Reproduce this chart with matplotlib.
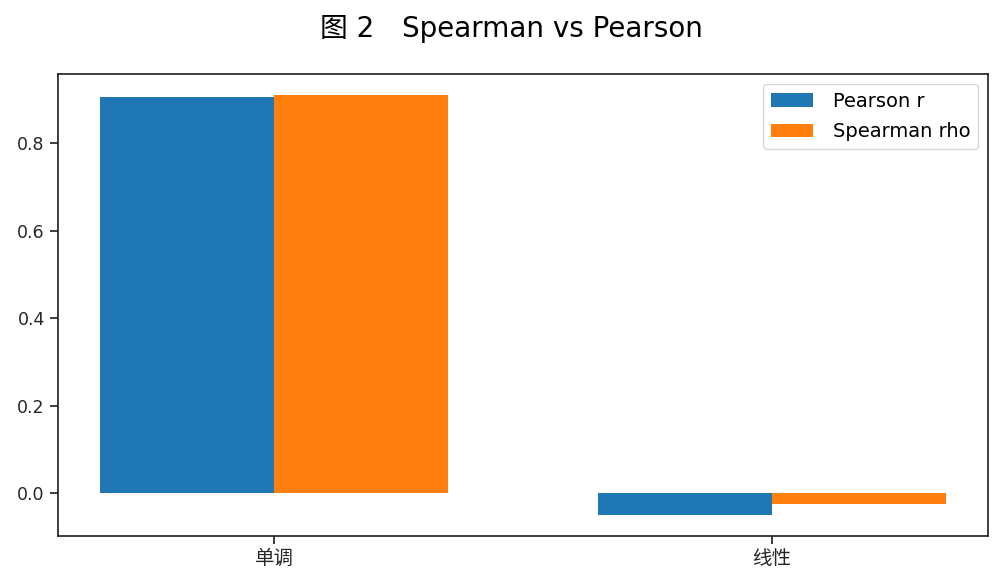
import matplotlib
matplotlib.use("Agg")
import matplotlib.pyplot as plt
import numpy as np

categories = ["单调", "线性"]
pearson_r = [0.905, -0.050]
spearman_rho = [0.910, -0.025]
series_labels = ["Pearson r", "Spearman rho"]
title = "图 2\u3000Spearman vs Pearson"

plt.rcParams['font.family'] = ['DejaVu Sans', 'Noto Sans CJK SC']
plt.rcParams['axes.edgecolor'] = '#262626'
plt.rcParams['xtick.color'] = '#262626'
plt.rcParams['ytick.color'] = '#262626'

fig = plt.figure(figsize=(10.03, 5.86), dpi=100)
ax = fig.add_axes([0.0578, 0.0853, 0.985 - 0.0578, 0.8737 - 0.0853])

x = np.arange(len(categories))
w = 0.35
ax.bar(x - w / 2, pearson_r, w, color='#1f77b4', label=series_labels[0])
ax.bar(x + w / 2, spearman_rho, w, color='#ff7f0e', label=series_labels[1])
ax.set_xticks(x)
ax.set_xticklabels(categories, fontsize=14)
ax.tick_params(axis='y', labelsize=12.5)
ax.tick_params(length=6, width=1.25)
for s in ax.spines.values():
    s.set_linewidth(1.25)
ax.legend(loc='upper right', fontsize=14, handlelength=2.2, handletextpad=1.0,
          labelspacing=0.6)
fig.suptitle(title, fontsize=20, y=0.975, x=0.51)

fig.savefig("out.png", dpi=100)
